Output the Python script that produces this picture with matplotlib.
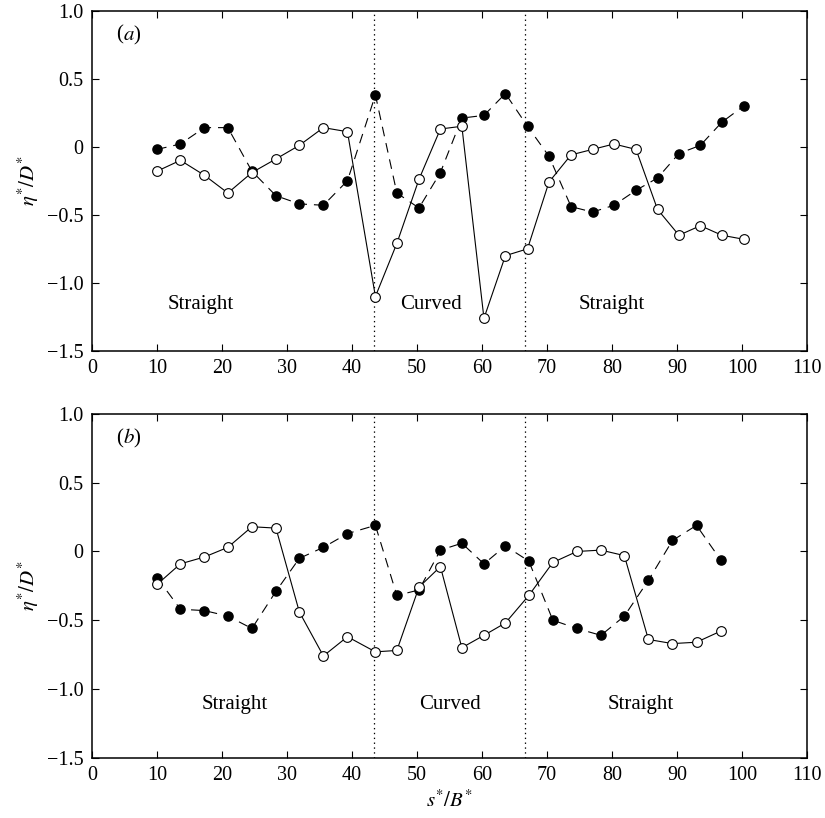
import matplotlib
matplotlib.use('Agg')
import matplotlib.pyplot as plt
from matplotlib.ticker import FixedLocator, FuncFormatter

plt.rcParams['font.family'] = ['Liberation Serif', 'DejaVu Serif']
plt.rcParams['mathtext.fontset'] = 'stix'
plt.rcParams['font.size'] = 14
plt.rcParams['lines.scale_dashes'] = False

# (a) streamwise positions and the two series
s_a = [10.0, 13.6, 17.3, 20.9, 24.6, 28.3, 31.9, 35.6, 39.3, 43.6, 46.9, 50.3, 53.6,
       56.9, 60.3, 63.6, 67.0, 70.3, 73.7, 77.0, 80.3, 83.7, 87.0, 90.3, 93.6, 96.9, 100.3]
filled_a = [-0.02, 0.02, 0.14, 0.14, -0.18, -0.36, -0.42, -0.43, -0.25, 0.38, -0.34, -0.45, -0.19,
            0.21, 0.23, 0.39, 0.15, -0.07, -0.44, -0.48, -0.43, -0.32, -0.23, -0.05, 0.01, 0.18, 0.30]
open_a = [-0.18, -0.10, -0.21, -0.34, -0.19, -0.09, 0.01, 0.14, 0.11, -1.10, -0.71, -0.24, 0.13,
          0.15, -1.26, -0.80, -0.75, -0.26, -0.06, -0.02, 0.02, -0.02, -0.46, -0.65, -0.58, -0.65, -0.68]

# (b)
s_b = [10.0, 13.6, 17.3, 20.9, 24.6, 28.3, 31.9, 35.6, 39.3, 43.6, 46.9, 50.3, 53.6,
       56.9, 60.3, 63.6, 67.2, 70.9, 74.6, 78.3, 81.9, 85.6, 89.3, 93.0, 96.7]
filled_b = [-0.19, -0.42, -0.43, -0.47, -0.56, -0.29, -0.05, 0.03, 0.13, 0.19, -0.32, -0.28, 0.01,
            0.06, -0.09, 0.04, -0.07, -0.50, -0.56, -0.61, -0.47, -0.21, 0.08, 0.19, -0.06]
open_b = [-0.24, -0.09, -0.04, 0.03, 0.18, 0.17, -0.44, -0.76, -0.62, -0.73, -0.72, -0.26, -0.11,
          -0.70, -0.61, -0.52, -0.32, -0.08, 0.00, 0.01, -0.03, -0.64, -0.67, -0.66, -0.58]

bends = [43.4, 66.6]
region_labels = ['Straight', 'Curved', 'Straight']
label_x_a = [16.8, 52.2, 80.0]
label_x_b = [21.9, 55.0, 84.4]
label_y = [-1.16, -1.11]

fig = plt.figure(figsize=(8.25, 8.18), dpi=100)
ax_a = fig.add_axes([92/825, 1 - 351/818, 715/825, 340.5/818])
ax_b = fig.add_axes([92/825, 1 - 757.7/818, 715/825, 343.7/818])


def fmt_y(v, pos):
    if abs(v) < 1e-9:
        return '0'
    return ('%.1f' % v).replace('-', '\u2212')


for ax, s, yf, yo, lx, ly, tag in [(ax_a, s_a, filled_a, open_a, label_x_a, label_y[0], 'a'),
                                   (ax_b, s_b, filled_b, open_b, label_x_b, label_y[1], 'b')]:
    for xb in bends:
        ax.axvline(xb, color='k', lw=0.9, linestyle=(0, (1, 2.5)), zorder=1)
    ax.plot(s, yf, color='k', lw=0.8, dashes=(7, 5), marker='o', ms=6.6,
            mfc='k', mec='k', zorder=2)
    ax.plot(s, yo, color='k', lw=0.8, linestyle='-', marker='o', ms=7,
            mfc='white', mec='k', mew=0.8, zorder=3)
    for txt, x in zip(region_labels, lx):
        ax.text(x, ly, txt, ha='center', va='center', fontsize=15)
    ax.text(4.8, 0.82, '(', ha='right', va='center', fontsize=15)
    ax.text(4.8, 0.82, r'$\mathit{%s}$)' % tag, ha='left', va='center', fontsize=15)
    ax.set_xlim(0, 110)
    ax.set_ylim(-1.5, 1.0)
    ax.xaxis.set_major_locator(FixedLocator(range(0, 111, 10)))
    ax.yaxis.set_major_locator(FixedLocator([-1.5, -1.0, -0.5, 0, 0.5, 1.0]))
    ax.yaxis.set_major_formatter(FuncFormatter(fmt_y))
    ax.tick_params(direction='in', length=5, width=0.8, top=True, right=True,
                   labelsize=14.5, pad=6)
    for sp in ax.spines.values():
        sp.set_linewidth(1.1)
    ax.set_ylabel(r'$\eta^{*}/D^{*}$', fontsize=15, labelpad=4)

ax_b.set_xlabel(r'$s^{*}/B^{*}$', fontsize=15, labelpad=4)

fig.savefig('out.png', dpi=100)
